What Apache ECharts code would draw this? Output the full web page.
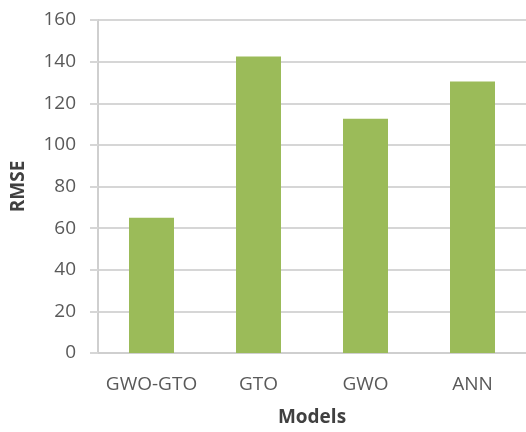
<!DOCTYPE html>
<html>
<head>
<meta charset="utf-8">
<style>
  html, body { margin: 0; padding: 0; background: #fff; }
  #chart { width: 526px; height: 432px; }
</style>
<script src="https://cdn.jsdelivr.net/npm/echarts@6/dist/echarts.min.js"></script>
</head>
<body>
<div id="chart"></div>
<script>
// RMSE of each forecasting model
const models = ['GWO-GTO', 'GTO', 'GWO', 'ANN'];
const rmse = [65, 142.5, 112.5, 130.5];
const yTicks = { min: 0, max: 160, step: 20 };

const textColor = '#595959';
const fontFamily = '"Open Sans", "Noto Sans", sans-serif';

const chart = echarts.init(document.getElementById('chart'), null, { renderer: 'canvas' });
chart.setOption({
  animation: false,
  backgroundColor: '#ffffff',
  grid: { left: 98, right: 0, top: 20, bottom: 79, containLabel: false },
  xAxis: {
    type: 'category',
    data: models,
    name: 'Models',
    nameLocation: 'middle',
    nameGap: 55,
    nameTextStyle: { color: '#404040', fontSize: 19, fontWeight: 'bold', fontFamily },
    axisLine: { show: true, lineStyle: { color: '#cfcfcf', width: 2 } },
    axisTick: { show: false },
    axisLabel: { color: textColor, fontSize: 19, fontFamily, margin: 22, interval: 0 }
  },
  yAxis: {
    type: 'value',
    min: yTicks.min,
    max: yTicks.max,
    interval: yTicks.step,
    name: 'RMSE',
    nameLocation: 'middle',
    nameGap: 70,
    nameRotate: 90,
    nameTextStyle: { color: '#404040', fontSize: 19, fontWeight: 'bold', fontFamily },
    axisLine: { show: true, lineStyle: { color: '#cfcfcf', width: 2 } },
    axisTick: { show: true, length: 8, lineStyle: { color: '#d6d6d6', width: 2 } },
    axisLabel: { color: textColor, fontSize: 19, fontFamily, margin: 22 },
    splitLine: { show: true, lineStyle: { color: '#d6d6d6', width: 2 } }
  },
  series: [{
    type: 'bar',
    data: rmse,
    barWidth: 45,
    itemStyle: { color: '#9bbb59' }
  }]
});
</script>
</body>
</html>
